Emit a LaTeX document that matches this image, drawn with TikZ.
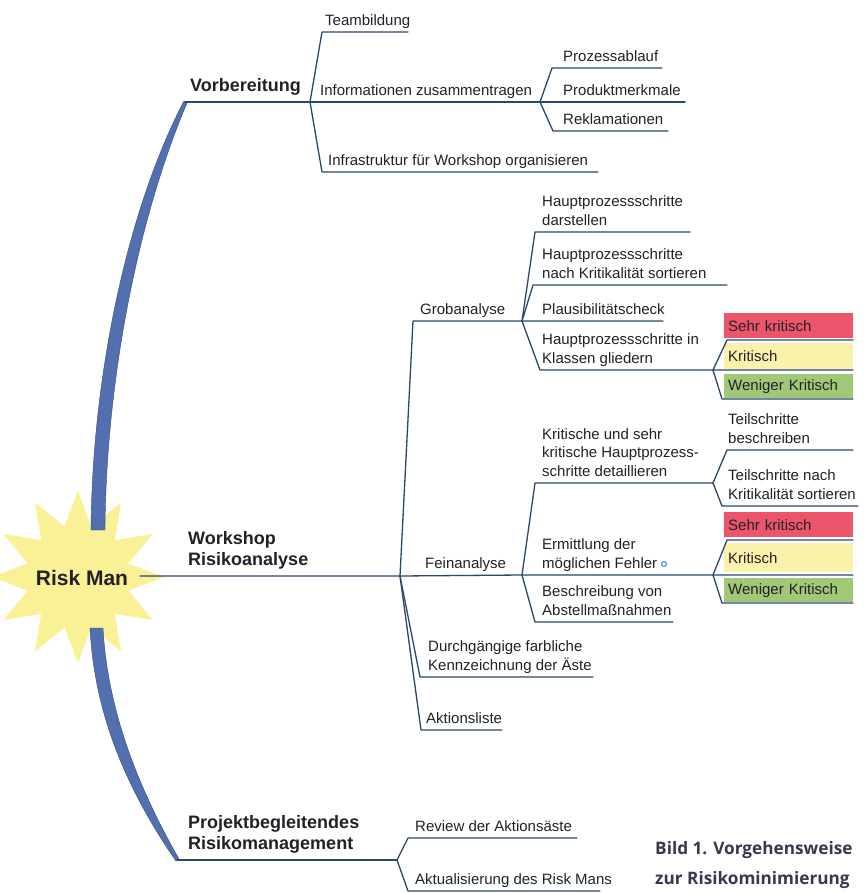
\documentclass[tikz,border=0pt]{standalone}
\usepackage{fontspec}
\setmainfont{Liberation Sans}
\newfontfamily\capfont{Open Sans}
\usetikzlibrary{shapes.geometric}
\definecolor{lnc}{RGB}{40,72,110}
\definecolor{trunkc}{RGB}{82,112,175}
\definecolor{trunkd}{RGB}{50,75,130}
\definecolor{txt}{RGB}{35,33,40}
\definecolor{redc}{RGB}{236,86,106}
\definecolor{yelc}{RGB}{250,241,170}
\definecolor{grnc}{RGB}{160,200,118}
\definecolor{starc}{RGB}{250,240,150}
\definecolor{capc}{RGB}{60,52,82}
\definecolor{dotc}{RGB}{40,130,220}
\begin{document}
\begin{tikzpicture}[x=1pt,y=-1pt,
  ln/.style={draw=lnc,line width=1.3pt,line cap=round,line join=round},
  lbl/.style={font=\fontsize{15}{18.5}\selectfont,text=txt,inner sep=0pt,anchor=south west,align=left,text depth=4pt},
  blbl/.style={font=\bfseries\fontsize{18}{21}\selectfont,text=txt,inner sep=0pt,anchor=south west,align=left,text depth=4pt},
  colbox/.style={anchor=north west,inner xsep=4pt,inner ysep=0pt,text width=121pt,align=left,font=\fontsize{15}{18}\selectfont,text=txt},
  captxt/.style={font=\capfont\bfseries\fontsize{17.2}{30}\selectfont,text=capc,inner sep=0pt,anchor=base west,align=left}
]
\useasboundingbox (0,0) rectangle (864,893);
\fill[white] (0,0) rectangle (864,893);

% ---------- star ----------
\node[star,star points=12,star point ratio=1.65,minimum size=172pt,fill=starc,draw=none,inner sep=0pt] (star) at (78,577) {};

% ---------- trunk ----------
\fill[trunkc,draw=trunkd,line width=0.4pt] (91,530) .. controls (92,380) and (126,212) .. (184,101) -- (187,103) .. controls (138,218) and (106,380) .. (105,530) -- cycle;
\fill[trunkc,draw=trunkd,line width=0.4pt] (90,628) .. controls (94,705) and (120,780) .. (176,861) -- (179,859) .. controls (131,775) and (107,700) .. (103,628) -- cycle;

\node[font=\bfseries\fontsize{21}{24}\selectfont,text=txt,inner sep=0pt] (risk) at (82,578) {Risk Man};

% ---------- coordinates ----------
\coordinate (V0) at (185,102);
\coordinate (VJ) at (310,102);
\coordinate (T0) at (322,32);   \coordinate (T1) at (408,32);
\coordinate (IJ) at (540,102);
\coordinate (S0) at (322,172);  \coordinate (S1) at (598,172);
\coordinate (PA0) at (552,68);  \coordinate (PA1) at (662,68);
\coordinate (PM1) at (685,102);
\coordinate (RK0) at (553,131); \coordinate (RK1) at (668,131);

\coordinate (W0) at (140,576);
\coordinate (WJ) at (400,576);
\coordinate (G0) at (413,321);
\coordinate (GJ) at (522,321);
\coordinate (H10) at (535,232); \coordinate (H11) at (690,232);
\coordinate (H20) at (533,285); \coordinate (H21) at (727,285);
\coordinate (PL1) at (663,321);
\coordinate (H40) at (540,370);
\coordinate (KJ) at (713,370);
\coordinate (SK10) at (727,340); \coordinate (SK11) at (853,340);
\coordinate (K11) at (853,370);
\coordinate (WK10) at (722,399); \coordinate (WK11) at (853,399);

\coordinate (FJ) at (522,575);
\coordinate (KR0) at (535,483);
\coordinate (DJ) at (713,483);
\coordinate (TB0) at (727,450); \coordinate (TB1) at (853,450);
\coordinate (TN0) at (722,506); \coordinate (TN1) at (858,506);
\coordinate (EJ) at (713,575);
\coordinate (SK20) at (727,540); \coordinate (SK21) at (853,540);
\coordinate (K21) at (853,575);
\coordinate (WK20) at (722,603); \coordinate (WK21) at (853,603);
\coordinate (BA0) at (535,622); \coordinate (BA1) at (673,622);
\coordinate (DU0) at (420,677); \coordinate (DU1) at (593,677);
\coordinate (AL0) at (421,730); \coordinate (AL1) at (502,730);

\coordinate (P0) at (177,860);
\coordinate (PJ) at (397,860);
\coordinate (RV0) at (408,838); \coordinate (RV1) at (577,838);
\coordinate (AK0) at (408,891); \coordinate (AK1) at (600,891);

% ---------- coloured boxes ----------
\node[colbox,fill=redc,minimum height=25pt] (sk1) at (724,313) {Sehr kritisch};
\node[colbox,fill=yelc,minimum height=26pt] (k1) at (724,343) {Kritisch};
\node[colbox,fill=grnc,minimum height=24pt] (wk1) at (724,374) {Weniger Kritisch};
\node[colbox,fill=redc,minimum height=25pt] (sk2) at (724,512) {Sehr kritisch};
\node[colbox,fill=yelc,minimum height=29pt] (k2) at (724,543) {Kritisch};
\node[colbox,fill=grnc,minimum height=24pt] (wk2) at (724,578) {Weniger Kritisch};

% ---------- branches ----------
\draw[ln] (V0) -- (VJ) -- (IJ) -- (PM1);
\draw[ln] (VJ) -- (T0) -- (T1);
\draw[ln] (VJ) -- (S0) -- (S1);
\draw[ln] (IJ) -- (PA0) -- (PA1);
\draw[ln] (IJ) -- (RK0) -- (RK1);

\draw[ln] (W0) -- (WJ) -- (FJ) -- (EJ) -- (K21);
\draw[ln] (WJ) -- (G0) -- (GJ) -- (PL1);
\draw[ln] (GJ) -- (H10) -- (H11);
\draw[ln] (GJ) -- (H20) -- (H21);
\draw[ln] (GJ) -- (H40) -- (KJ) -- (K11);
\draw[ln] (KJ) -- (SK10) -- (SK11);
\draw[ln] (KJ) -- (WK10) -- (WK11);
\draw[ln] (FJ) -- (KR0) -- (DJ);
\draw[ln] (DJ) -- (TB0) -- (TB1);
\draw[ln] (DJ) -- (TN0) -- (TN1);
\draw[ln] (EJ) -- (SK20) -- (SK21);
\draw[ln] (EJ) -- (WK20) -- (WK21);
\draw[ln] (FJ) -- (BA0) -- (BA1);
\draw[ln] (WJ) -- (DU0) -- (DU1);
\draw[ln] (WJ) -- (AL0) -- (AL1);

\draw[ln] (P0) -- (PJ);
\draw[ln] (PJ) -- (RV0) -- (RV1);
\draw[ln] (PJ) -- (AK0) -- (AK1);

% ---------- labels ----------
\node[blbl] (vorb) at (190,96) {Vorbereitung};
\node[lbl] (team) at (325,29.5) {Teambildung};
\node[lbl] (info) at (320,99.5) {Informationen zusammentragen};
\node[lbl] (infra) at (328,169.5) {Infrastruktur für Workshop organisieren};
\node[lbl] (proz) at (563,65.5) {Prozessablauf};
\node[lbl] (prod) at (563,99.5) {Produktmerkmale};
\node[lbl] (rekl) at (563,128.5) {Reklamationen};

\node[blbl] (work) at (188,570) {Workshop\\Risikoanalyse};
\node[lbl] (grob) at (420,318.5) {Grobanalyse};
\node[lbl] (h1) at (542,229.5) {Hauptprozessschritte\\darstellen};
\node[lbl] (h2) at (542,282.5) {Hauptprozessschritte\\nach Kritikalität sortieren};
\node[lbl] (plaus) at (542,318.5) {Plausibilitätscheck};
\node[lbl] (h4) at (542,367.5) {Hauptprozessschritte in\\Klassen gliedern};

\node[lbl] (fein) at (425,572.5) {Feinanalyse};
\node[lbl] (krit) at (542,480.5) {Kritische und sehr\\kritische Hauptprozess-\\schritte detaillieren};
\node[lbl] (tb) at (728,447.5) {Teilschritte\\beschreiben};
\node[lbl] (tn) at (728,503.5) {Teilschritte nach\\Kritikalität sortieren};
\node[lbl] (erm) at (542,572.5) {Ermittlung der\\möglichen Fehler};
\node[lbl] (besch) at (542,619.5) {Beschreibung von\\Abstellmaßnahmen};
\node[lbl] (durch) at (428,674.5) {Durchgängige farbliche\\Kennzeichnung der Äste};
\node[lbl] (akt) at (426,727.5) {Aktionsliste};

\node[blbl] (proj) at (188,854) {Projektbegleitendes\\Risikomanagement};
\node[lbl] (rev) at (415,835.5) {Review der Aktionsäste};
\node[lbl] (aktu) at (415,888.5) {Aktualisierung des Risk Mans};

\node[draw=dotc,circle,line width=1pt,minimum size=5pt,inner sep=0pt] (dot) at (664,564) {};

% ---------- caption ----------
\node[captxt] (cap1) at (655,854) {Bild 1. Vorgehensweise};
\node[captxt] (cap2) at (655,884) {zur Risikominimierung};
\end{tikzpicture}
\end{document}
